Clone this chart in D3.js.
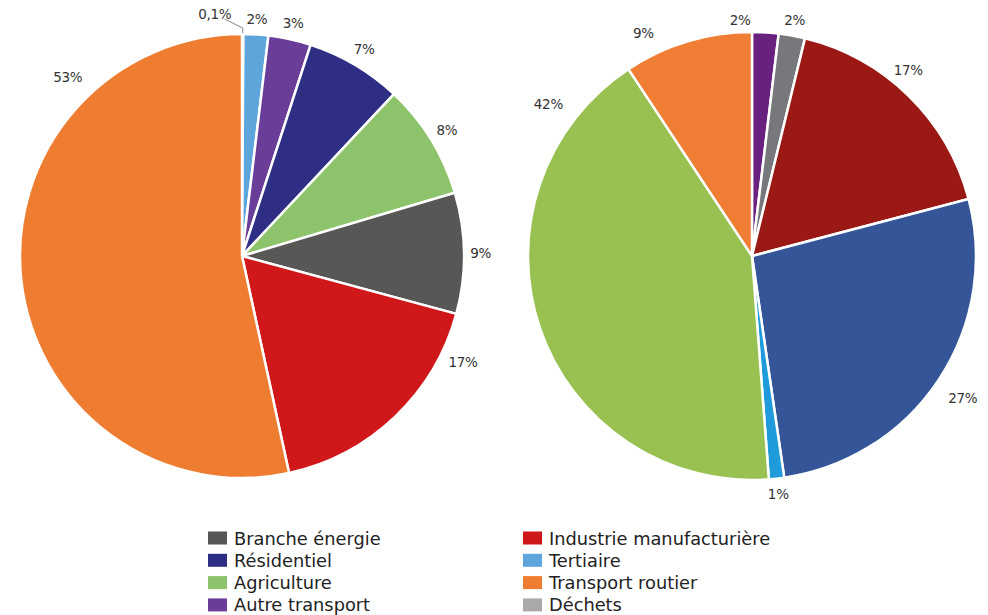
<!DOCTYPE html>
<html><head><meta charset="utf-8">
<script src="https://cdn.jsdelivr.net/npm/d3@7"></script>
<style>body{margin:0;background:#fff}svg{display:block}</style>
</head><body><svg id="c" width="988" height="615"></svg>
<script>
// ---- data ----
const categories = ["Branche énergie","Industrie manufacturière","Résidentiel","Tertiaire","Agriculture","Transport routier","Autre transport","Déchets"];
const legendColors = ["#575756","#d0181b","#2e2e84","#5ea5db","#8dc46b","#ef7d31","#6a3d98","#a9a9a9"];

const leftSlices = ["Déchets","Tertiaire","Autre transport","Résidentiel","Agriculture","Branche énergie","Industrie manufacturière","Transport routier"];
const leftValues = [0.1,1.8,3.1,7.0,8.4,8.8,17.4,53.4];

const rightSlices = ["Autre transport","Déchets","Industrie manufacturière","Résidentiel","Tertiaire","Agriculture","Transport routier"];
const rightValues = [1.9,1.9,17.1,26.8,1.1,41.9,9.3];
const rightColors = ["#68217f","#77787b","#9a1914","#345598","#1f9bdb","#98c152","#ef7d33"];

// ---- layout (not data) ----
const leftLabelAdj = {0:null, 6:{a:115.6,d:245}, 7:{a:315.8,d:250}};
const rightLabelAdj = {0:{a:-2.9,d:236}, 2:{a:40,d:243}, 5:{a:306.7,d:254}, 6:{a:334,d:248}, 3:{a:123.9,d:254}};

const svg = d3.select("#c");
const colorOf = d3.scaleOrdinal().domain(categories).range(legendColors);
const fmt = v => v < 1 ? d3.format(".1f")(v).replace(".", ",") + "%" : Math.round(v) + "%";
const FONT = "'DejaVu Sans', sans-serif";

function drawPie(cx, cy, r, names, values, colors, adj, leader) {
  const g = svg.append("g").attr("transform", `translate(${cx},${cy})`);
  const pie = d3.pie().sort(null).value(d => d.v).startAngle(0).endAngle(2*Math.PI);
  const arcs = pie(names.map((n,i)=>({n, v: values[i], c: colors ? colors[i] : colorOf(n)})));
  const arc = d3.arc().innerRadius(0).outerRadius(r);
  g.selectAll("path").data(arcs).join("path")
    .attr("d", arc).attr("fill", d => d.data.c)
    .attr("stroke", "#fff").attr("stroke-width", 2.5).attr("stroke-linejoin","round");
  arcs.forEach((d,i) => {
    const label = fmt(d.data.v);
    const hw = label.length * 4.3, hh = 6.5;
    let a = (d.startAngle + d.endAngle)/2;
    let dist = r + 8 + hw*Math.abs(Math.sin(a)) + hh*Math.abs(Math.cos(a));
    const o = adj[i];
    if (o) { a = o.a * Math.PI/180; dist = o.d; }
    let x = dist*Math.sin(a), y = -dist*Math.cos(a);
    if (o === null && leader) {
      const ax = r*Math.sin(a), ay = -r*Math.cos(a);
      g.append("polyline")
        .attr("points", `${ax},${ay-1} ${ax},${ay-6} ${ax-18},${ay-15}`)
        .attr("fill","none").attr("stroke","#888").attr("stroke-width",1);
      x = ax - 28; y = ay - 20;
    }
    g.append("text").attr("x", x).attr("y", y)
      .attr("text-anchor","middle").attr("dominant-baseline","central")
      .attr("font-family", FONT).attr("font-size", 13.5).attr("fill","#333")
      .attr("letter-spacing", -0.3)
      .text(label);
  });
}

drawPie(242, 256, 222, leftSlices, leftValues, null, leftLabelAdj, true);
drawPie(752, 256, 224, rightSlices, rightValues, rightColors, rightLabelAdj, false);

// ---- legend ----
const lg = svg.append("g");
categories.forEach((c,i) => {
  const col = i % 2, row = Math.floor(i/2);
  const x = col === 0 ? 208 : 523, y = 538 + row*22.3;
  lg.append("rect").attr("x", x).attr("y", y-6.5).attr("width", 19).attr("height", 13).attr("fill", colorOf(c));
  lg.append("text").attr("x", x+26).attr("y", y).attr("dominant-baseline","central")
    .attr("font-family", FONT).attr("font-size", 17.8).attr("fill","#222").text(c);
});
</script></body></html>
